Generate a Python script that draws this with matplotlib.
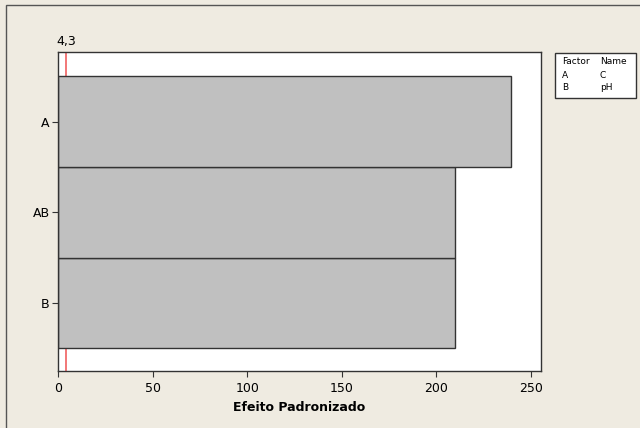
import matplotlib
matplotlib.use("Agg")
import matplotlib.pyplot as plt
from matplotlib.patches import Rectangle

# Pareto chart of standardized effects
terms = ["B", "AB", "A"]
effects = [209.6, 209.6, 239.7]
critical = 4.3
factors = ["A", "B"]
names = ["C", "pH"]

bg = "#EFEBE1"
fig = plt.figure(figsize=(6.4, 4.28), dpi=100, facecolor=bg)

# outer frame (Minitab style)
fig.patches.append(Rectangle((6 / 640, -0.1), 1.2, 1 - 5 / 428 + 0.1,
                             transform=fig.transFigure, fill=False,
                             edgecolor="#555555", linewidth=1.0))

ax = fig.add_axes([58 / 640, 1 - 371 / 428, (541 - 58) / 640, (371 - 52) / 428])
ax.set_facecolor("white")

ypos = list(range(len(terms)))
ax.barh(ypos, effects, height=1.0, color="#C0C0C0", edgecolor="#333333",
        linewidth=1.0, zorder=2)
# reference line sits behind the bars
ax.axvline(critical, color="#F06060", linewidth=1.2, zorder=1)

ax.set_xlim(0, 255.3)
ax.set_ylim(-0.75, 2.77)
ax.set_yticks(ypos)
ax.set_yticklabels(terms)
ax.set_xticks([0, 50, 100, 150, 200, 250])
ax.tick_params(axis="both", labelsize=9, length=4, width=0.8, color="#333333")
ax.tick_params(axis="x", pad=4)
ax.tick_params(axis="y", pad=2)
for s in ax.spines.values():
    s.set_color("#333333")
    s.set_linewidth(1.0)
    s.set_zorder(3)

ax.set_xlabel("Efeito Padronizado", fontsize=9, fontweight="bold", labelpad=4)
ax.text(critical, 1.012, "4,3", transform=ax.get_xaxis_transform(),
        ha="center", va="bottom", fontsize=9)

# factor legend box
fig.patches.append(Rectangle((555 / 640, 1 - 98 / 428), 81 / 640, 45 / 428,
                             transform=fig.transFigure, facecolor="white",
                             edgecolor="#333333", linewidth=1.0))
fig.text(562 / 640, 1 - 62 / 428, "Factor", fontsize=6.5, va="center")
fig.text(600 / 640, 1 - 62 / 428, "Name", fontsize=6.5, va="center")
for i, (f, n) in enumerate(zip(factors, names)):
    y = 1 - (75 + 13 * i) / 428
    fig.text(562 / 640, y, f, fontsize=6.5, va="center")
    fig.text(600 / 640, y, n, fontsize=6.5, va="center")

fig.savefig("out.png", dpi=100, facecolor=bg)
